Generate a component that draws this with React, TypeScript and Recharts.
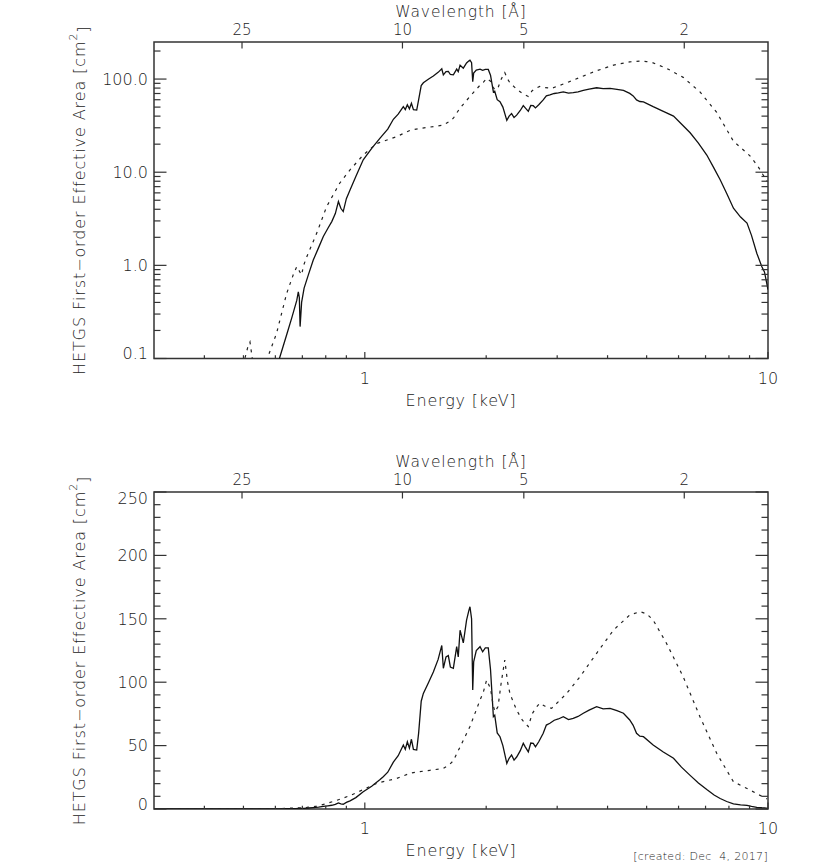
import React from 'react';
import { LineChart, Line, XAxis, YAxis, ReferenceArea, Label } from 'recharts';

// energy [keV] / effective area [cm^2]
const solidEnergy = [
  0.3, 0.4, 0.5, 0.58, 0.614, 0.64, 0.66, 0.678, 0.684, 0.688, 0.691, 0.697, 0.707, 0.725, 0.745, 0.768,
  0.789, 0.81, 0.828, 0.845, 0.86, 0.872, 0.884, 0.9, 0.919, 0.95, 0.991, 1.04, 1.091, 1.111, 1.14, 1.177,
  1.21, 1.246, 1.26, 1.275, 1.29, 1.305, 1.32, 1.345, 1.36, 1.38, 1.397, 1.44, 1.479, 1.52, 1.552, 1.566,
  1.59, 1.611, 1.63, 1.658, 1.69, 1.705, 1.723, 1.755, 1.788, 1.81, 1.823, 1.84, 1.852, 1.862, 1.89, 1.931,
  1.96, 1.99, 2.024, 2.05, 2.084, 2.1, 2.13, 2.164, 2.2, 2.25, 2.28, 2.312, 2.345, 2.38, 2.43, 2.472, 2.5,
  2.544, 2.58, 2.617, 2.65, 2.7, 2.77, 2.82, 2.878, 2.95, 3.02, 3.107, 3.2, 3.288, 3.38, 3.483, 3.6, 3.758,
  3.9, 4.058, 4.22, 4.38, 4.54, 4.63, 4.72, 4.81, 4.91, 5.19, 5.5, 5.83, 6.1, 6.41, 6.72, 7.05, 7.35, 7.61,
  7.9, 8.21, 8.55, 8.87, 9.1, 9.38, 9.65, 9.8, 10,
];
const solidArea = [
  0.0005, 0.003, 0.015, 0.05, 0.1, 0.18, 0.28, 0.42, 0.52, 0.45, 0.22, 0.4, 0.57, 0.8, 1.14, 1.55,
  2.04, 2.5, 2.95, 3.6, 4.84, 4.1, 3.78, 5.2, 6.46, 9, 13.6, 18, 23.2, 25.5, 29, 37,
  42, 50.5, 47, 53, 48, 55, 47, 46.5, 60, 85, 91.2, 100, 108, 118, 129, 111,
  120, 121, 112, 111, 128, 120, 141, 131, 149, 156, 159.5, 150, 93.8, 116, 125, 128,
  124, 127, 127, 110, 72.8, 74, 60, 57, 50, 36, 40, 42.6, 38.6, 41, 46, 51.8, 49,
  45, 52, 51.8, 49, 53, 59.7, 66.2, 67.6, 70, 71, 72.8, 70.5, 71.5, 73, 75.5, 78, 80.7,
  79, 79.4, 77.5, 75.5, 70.2, 66, 59.7, 57.4, 57, 50.5, 45, 40, 33, 26.5, 20.5, 15.3, 11, 8.3,
  5.9, 4.1, 3.3, 2.84, 2.1, 1.35, 0.97, 0.85, 0.55,
];
const dashEnergy = [
  0.3, 0.45, 0.49, 0.504, 0.512, 0.519, 0.526, 0.535, 0.555, 0.573, 0.604, 0.64, 0.665, 0.678, 0.69, 0.697,
  0.705, 0.718, 0.76, 0.804, 0.867, 0.919, 0.991, 1.07, 1.2, 1.295, 1.37, 1.45, 1.566, 1.62, 1.658, 1.723,
  1.823, 1.931, 1.967, 2.005, 2.05, 2.08, 2.103, 2.14, 2.18, 2.224, 2.26, 2.29, 2.33, 2.38, 2.46, 2.544,
  2.6, 2.66, 2.716, 2.8, 2.905, 3.03, 3.168, 3.417, 3.758, 4.14, 4.54, 4.81, 5.0, 5.19, 5.6, 6.16, 6.78,
  7.46, 8.21, 9.02, 9.45, 9.94,
];
const dashArea = [
  0.001, 0.03, 0.07, 0.1, 0.13, 0.15, 0.1, 0.07, 0.08, 0.1, 0.186, 0.5, 0.8, 0.97, 0.85, 0.79,
  1.0, 1.24, 2.22, 4.27, 7.66, 10.6, 15.3, 20.3, 24.1, 28.2, 29.5, 30.5, 32, 35, 38, 49,
  65, 86, 92, 101.7, 95, 82, 76.7, 80.7, 100, 117.5, 100, 91.2, 85, 78, 70, 65,
  75, 80, 83.4, 81, 79.4, 85, 91.2, 104.3, 122.8, 141.2, 153, 155.6, 154, 149, 130.7, 104.3, 72.8,
  43.9, 21.5, 15, 11.5, 8,
];

const energyTicks = [0.4, 0.5, 0.6, 0.7, 0.8, 0.9, 1, 2, 3, 4, 5, 6, 7, 8, 9, 10];
const energyLabels = [1, 10];
const wavelengthTicks = [25, 10, 5, 2];
const logAreaTicks = [0.1, 0.2, 0.3, 0.4, 0.5, 0.6, 0.7, 0.8, 0.9, 1, 2, 3, 4, 5, 6, 7, 8, 9, 10, 20, 30, 40, 50, 60, 70, 80, 90, 100, 200];
const logAreaLabels = [0.1, 1, 10, 100];
const linAreaTicks = [0, 10, 20, 30, 40, 50, 60, 70, 80, 90, 100, 110, 120, 130, 140, 150, 160, 170, 180, 190, 200, 210, 220, 230, 240, 250];
const linAreaLabels = [0, 50, 100, 150, 200, 250];

const HC = 12.398; // keV * Angstrom

const solidPts = solidEnergy.map((e, i) => ({ e, a: solidArea[i] }));
const dashPts = dashEnergy.map((e, i) => ({ e, a: dashArea[i] }));

const W = 840;
const PL = 154;
const PR = 768;
const INK = '#333';
const font = { fontFamily: '"DejaVu Sans", sans-serif', fontSize: 16, fontWeight: 300, fill: '#222' };

function yTick(labels: number[], fmt: (v: number) => string, lo: number, hi: number) {
  return (p: any) => {
    const v = p.payload.value;
    const yc = p.payload.coordinate;
    const major = labels.includes(v);
    const len = major ? 12.5 : 6.5;
    const shift = v === lo ? -5 : v === hi ? 6 : 0;
    return (
      <g>
        <line x1={PL} x2={PL + len} y1={yc} y2={yc} stroke={INK} strokeWidth={1.2} />
        <line x1={PR} x2={PR - len} y1={yc} y2={yc} stroke={INK} strokeWidth={1.2} />
        {major && (
          <text x={PL - 6} y={yc + shift} dy="0.36em" textAnchor="end" {...font}>
            {fmt(v)}
          </text>
        )}
      </g>
    );
  };
}

function xTick(bottom: number) {
  return (p: any) => {
    const v = p.payload.value;
    const xc = p.payload.coordinate;
    const major = energyLabels.includes(v);
    const len = major ? 6.5 : 3.3;
    return (
      <g>
        <line x1={xc} x2={xc} y1={bottom} y2={bottom - len} stroke={INK} strokeWidth={1.2} />
        {major && (
          <text x={xc} y={bottom + 19.5} dy="0.36em" textAnchor="middle" {...font}>
            {v}
          </text>
        )}
      </g>
    );
  };
}

function wlTick(top: number) {
  return (p: any) => {
    const xc = p.payload.coordinate;
    return (
      <g>
        <line x1={xc} x2={xc} y1={top} y2={top + 6.5} stroke={INK} strokeWidth={1.2} />
        <text x={xc} y={top - 12.5} dy="0.36em" textAnchor="middle" {...font} fontSize={15}>
          {Math.round(HC / p.payload.value)}
        </text>
      </g>
    );
  };
}

type PanelProps = {
  height: number;
  top: number;
  bottom: number;
  log: boolean;
  created?: boolean;
};

function Panel({ height, top, bottom, log, created }: PanelProps) {
  const yDomain = log ? [0.1, 250] : [0, 250];
  const yTicks = log ? logAreaTicks : linAreaTicks;
  const yFmt = log ? (v: number) => v.toFixed(1) : (v: number) => String(v);
  const yLabels = log ? logAreaLabels : linAreaLabels;
  const mid = (top + bottom) / 2;
  return (
    <LineChart
      width={W}
      height={height}
      margin={{ top: top - 30, right: W - PR, bottom: height - bottom - 30, left: PL - 60 }}
    >
      <XAxis
        xAxisId="e"
        dataKey="e"
        type="number"
        scale="log"
        domain={[0.3, 10]}
        allowDataOverflow
        ticks={energyTicks}
        interval={0}
        height={30}
        axisLine={false}
        tickLine={false}
        tick={xTick(bottom)}
      >
        <Label
          content={() => (
            <g>
              <text x={(PL + PR) / 2} y={bottom + 41.5} dy="0.36em" textAnchor="middle" {...font} letterSpacing={0.8}>
                Energy [keV]
              </text>
              {created && (
                <text x={PR} y={bottom + 47} dy="0.36em" textAnchor="end" {...font} fontSize={11} letterSpacing={0.3}>
                  [created: Dec{'\u00a0\u00a0'}4, 2017]
                </text>
              )}
            </g>
          )}
        />
      </XAxis>
      <XAxis
        xAxisId="wl"
        dataKey="e"
        orientation="top"
        type="number"
        scale="log"
        domain={[0.3, 10]}
        allowDataOverflow
        ticks={wavelengthTicks.map((l) => HC / l)}
        interval={0}
        height={30}
        axisLine={false}
        tickLine={false}
        tick={wlTick(top)}
      >
        <Label
          content={() => (
            <text x={(PL + PR) / 2} y={top - 31} dy="0.36em" textAnchor="middle" {...font} fontSize={15.5} letterSpacing={0.9}>
              Wavelength [Å]
            </text>
          )}
        />
      </XAxis>
      <YAxis
        type="number"
        scale={log ? 'log' : 'linear'}
        domain={yDomain}
        allowDataOverflow
        ticks={yTicks}
        interval={0}
        width={60}
        axisLine={false}
        tickLine={false}
        tick={yTick(yLabels, yFmt, yDomain[0], 250)}
      >
        <Label
          content={() => (
            <text
              x={79.5}
              y={mid}
              dy="0.36em"
              textAnchor="middle"
              transform={`rotate(-90, 79.5, ${mid})`}
              {...font}
              letterSpacing={0.9}
            >
              HETGS First−order Effective Area [cm
              <tspan dy="-0.75em" fontSize={11}>2</tspan>
              <tspan dy="0.75em">]</tspan>
            </text>
          )}
        />
      </YAxis>
      <ReferenceArea
        xAxisId="e"
        x1={0.3}
        x2={10}
        y1={yDomain[0]}
        y2={250}
        fill="none"
        stroke={INK}
        strokeWidth={1.5}
        ifOverflow="visible"
      />
      <Line
        xAxisId="e"
        data={solidPts}
        dataKey="a"
        type="linear"
        dot={false}
        stroke="#111"
        strokeWidth={1.3}
        isAnimationActive={false}
      />
      <Line
        xAxisId="wl"
        data={dashPts}
        dataKey="a"
        type="linear"
        dot={false}
        stroke="#222"
        strokeWidth={1.2}
        strokeDasharray="3 5"
        isAnimationActive={false}
      />
    </LineChart>
  );
}

export default function App() {
  return (
    <div style={{ position: 'absolute', left: 0, top: 0, width: W, height: 863, background: '#fff' }}>
      <div style={{ position: 'absolute', left: 0, top: 0 }}>
        <Panel height={430} top={42} bottom={358.5} log />
      </div>
      <div style={{ position: 'absolute', left: 0, top: 430 }}>
        <Panel height={433} top={62} bottom={379} log={false} created />
      </div>
    </div>
  );
}
